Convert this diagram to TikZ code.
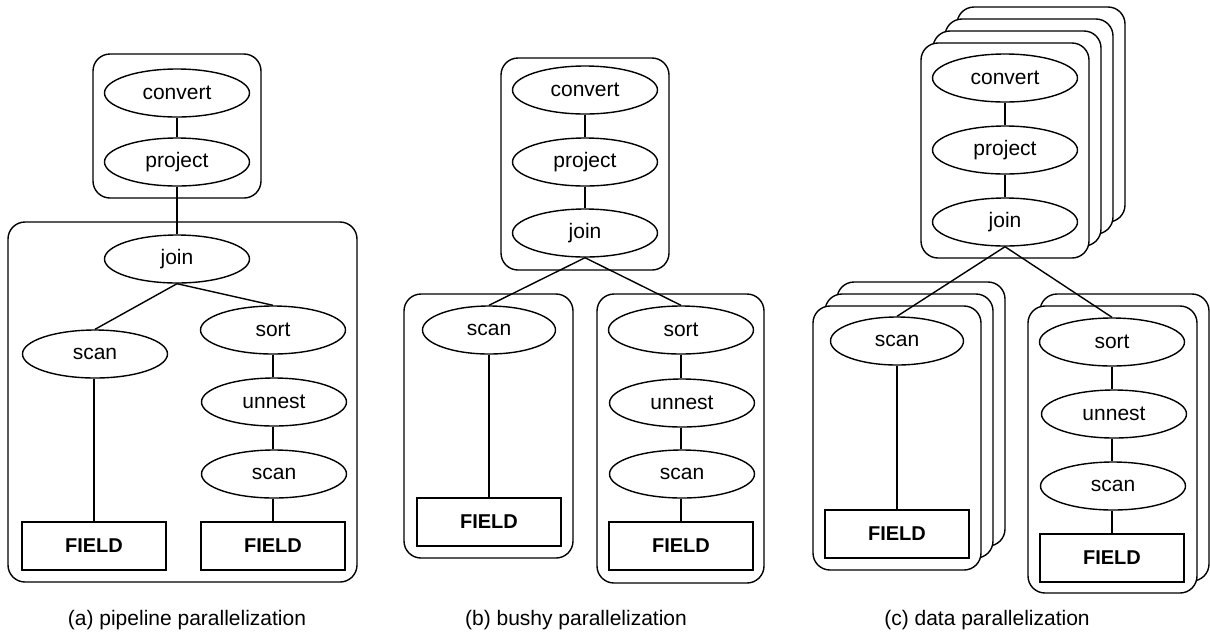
\documentclass[tikz,border=0pt]{standalone}
\usepackage{fontspec}
\setmainfont{Liberation Sans}
\usepackage{tikz}
\usetikzlibrary{shapes.geometric}

\tikzset{
  op/.style={draw, ellipse, fill=white, inner sep=0pt, minimum width=72.5pt, minimum height=24pt},
  narrow/.style={minimum width=66.5pt},
  field/.style={draw, rectangle, fill=white, font=\bfseries, minimum width=72pt, minimum height=24pt},
  group/.style={draw, rectangle, fill=white, rounded corners=8.5pt}
}

\begin{document}
\begin{tikzpicture}[x=0.5pt, y=-0.5pt, line width=0.7pt, font=\fontsize{10.5pt}{12pt}\selectfont]

            \useasboundingbox (0,0) rectangle (1210,634);

            % (a) pipeline parallelization
            \node[group, minimum width=84pt, minimum height=72pt] (gA1) at (177,126) {};
            \node[group, minimum width=174.5pt, minimum height=180pt] (gA2) at (182.5,402) {};

            \node[op] (convA) at (177,93) {convert};
            \node[op] (projA) at (177,162) {project};
            \node[op] (joinA) at (177,259) {join};
            \node[op] (scanA1) at (95,354) {scan};
            \node[op] (sortA) at (273,330) {sort};
            \node[op] (unnestA) at (274,402) {unnest};
            \node[op] (scanA2) at (274,474) {scan};
            \node[field] (fieldA1) at (94,546) {FIELD};
            \node[field] (fieldA2) at (273,546) {FIELD};

            \node (capA) at (187,620) {(a) pipeline parallelization};

            % (b) bushy parallelization
            \node[group, minimum width=84pt, minimum height=106pt] (gB1) at (585,164) {};
            \node[group, minimum width=84.5pt, minimum height=132pt] (gB2) at (488.5,426) {};
            \node[group, minimum width=83.5pt, minimum height=144.5pt] (gB3) at (680.5,438.5) {};

            \node[op] (convB) at (585,90) {convert};
            \node[op] (projB) at (585,162) {project};
            \node[op] (joinB) at (585,233) {join};
            \node[op, narrow] (scanB1) at (489,330) {scan};
            \node[op] (sortB) at (681,330) {sort};
            \node[op] (unnestB) at (682,403) {unnest};
            \node[op] (scanB2) at (682,474) {scan};
            \node[field] (fieldB1) at (489,522) {FIELD};
            \node[field] (fieldB2) at (681,546) {FIELD};

            \node (capB) at (576,620) {(b) bushy parallelization};

            % (c) data parallelization, copies behind
            \node[group, minimum width=84pt, minimum height=107.5pt] (gC1c) at (1041,114.5) {};
            \node[group, minimum width=84pt, minimum height=107.5pt] (gC1b) at (1029,126.5) {};
            \node[group, minimum width=84pt, minimum height=107.5pt] (gC1a) at (1017,138.5) {};
            \node[group, minimum width=84pt, minimum height=107.5pt] (gC1) at (1005,150.5) {};

            \node[group, minimum width=84pt, minimum height=132pt] (gC2b) at (921,414) {};
            \node[group, minimum width=84pt, minimum height=132pt] (gC2a) at (909,426) {};
            \node[group, minimum width=84pt, minimum height=132pt] (gC2) at (897,438) {};

            \node[group, minimum width=84.5pt, minimum height=143.5pt] (gC3a) at (1124.5,437.5) {};
            \node[group, minimum width=84.5pt, minimum height=143.5pt] (gC3) at (1112.5,449.5) {};

            \node[op] (convC) at (1005,78) {convert};
            \node[op] (projC) at (1005,150) {project};
            \node[op] (joinC) at (1005,222) {join};
            \node[op, narrow] (scanC1) at (897,341) {scan};
            \node[op] (sortC) at (1112,342) {sort};
            \node[op] (unnestC) at (1114,414) {unnest};
            \node[op] (scanC2) at (1113,486) {scan};
            \node[field] (fieldC1) at (897,534) {FIELD};
            \node[field] (fieldC2) at (1112,558) {FIELD};

            \node (capC) at (987,620) {(c) data parallelization};

            % Connections: operator tree edges
            \draw (convA) -- (projA);
            \draw (projA) -- (joinA);
            \draw (joinA.south) -- (scanA1.north);
            \draw (joinA.south) -- (sortA.north);
            \draw (fieldA1.north) -- (fieldA1.north |- scanA1.south);
            \draw (sortA.south) -- (sortA.south |- unnestA.north);
            \draw (sortA.south |- unnestA.south) -- (sortA.south |- scanA2.north);
            \draw (fieldA2.north) -- (fieldA2.north |- scanA2.south);

            \draw (convB) -- (projB);
            \draw (projB) -- (joinB);
            \draw (joinB.south) -- (scanB1.north);
            \draw (joinB.south) -- (sortB.north);
            \draw (scanB1) -- (fieldB1);
            \draw (sortB.south) -- (sortB.south |- unnestB.north);
            \draw (sortB.south |- unnestB.south) -- (sortB.south |- scanB2.north);
            \draw (fieldB2.north) -- (fieldB2.north |- scanB2.south);

            \draw (convC) -- (projC);
            \draw (projC) -- (joinC);
            \draw (joinC.south) -- (scanC1.north);
            \draw (joinC.south) -- (sortC.north);
            \draw (scanC1) -- (fieldC1);
            \draw (sortC.south) -- (sortC.south |- unnestC.north);
            \draw (sortC.south |- unnestC.south) -- (sortC.south |- scanC2.north);
            \draw (fieldC2.north) -- (fieldC2.north |- scanC2.south);

        \end{tikzpicture}
\end{document}
